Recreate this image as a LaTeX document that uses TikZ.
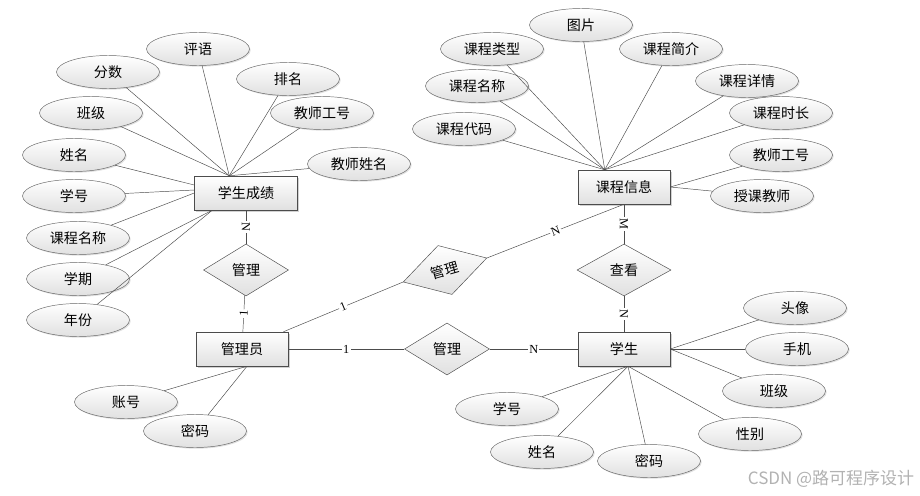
\documentclass[tikz,border=0pt]{standalone}
\usepackage{fontspec}
\setmainfont{Noto Sans CJK SC}
\newfontfamily\lblfont{Liberation Serif}
\usetikzlibrary{calc}
\usetikzlibrary{shapes.geometric}
\usetikzlibrary{shadows}
\tikzset{
    entity/.style = {draw=black!70, rectangle, 
        top color=white, bottom color=black!12,
        drop shadow={shadow xshift=1.5pt, shadow yshift=-1.5pt, opacity=0.35},
        minimum height=1.02cm, 
        minimum width=2.76cm},
    attr/.style = {draw=black!60, ellipse, inner sep=0pt,
        top color=white, bottom color=black!12,
        drop shadow={shadow xshift=1pt, shadow yshift=-1pt, opacity=0.25},
        minimum height=0.99cm, 
        minimum width=3.09cm},
    rel/.style = {draw=black!70, diamond, inner sep=0pt,
        top color=white, bottom color=black!12,
        minimum height=1.56cm, 
        minimum width=2.55cm},
    link/.style = {draw=black!70},
    card/.style = {fill=white, inner sep=1pt, sloped, font=\lblfont\fontsize{10.5}{11}\selectfont}
}

\begin{document}
\begin{tikzpicture}[x=0.03cm, y=-0.03cm, font=\fontsize{12}{14}\selectfont]
            \useasboundingbox (0,0) rectangle (920,495);
            \fill [white] (0,0) rectangle (920,495);

            \node [entity, minimum width=3.09cm] (cj) at (246,193) {学生成绩};
            \node [entity] (kc) at (624,187) {课程信息};
            \node [entity] (gly) at (242,349) {管理员};
            \node [entity] (xs) at (624,349) {学生};

            \node [rel] (glcj) at (246,270) {管理};
            \node [rel, minimum width=2.61cm, minimum height=1.53cm, rotate=16] (glkc) at (445,270) {管理};
            \node [rel, minimum width=2.82cm] (ck) at (624,270) {查看};
            \node [rel] (glxs) at (447,349) {管理};

            \node [attr] (cjpy) at (198,49) {评语};
            \node [attr] (cjfs) at (108,72) {分数};
            \node [attr] (cjpm) at (288,79) {排名};
            \node [attr] (cjbj) at (91,113) {班级};
            \node [attr] (cjgh) at (322,113) {教师工号};
            \node [attr] (cjxm) at (74,155) {姓名};
            \node [attr] (cjjs) at (359,164) {教师姓名};
            \node [attr] (cjxh) at (74,196) {学号};
            \node [attr] (cjkm) at (78,238) {课程名称};
            \node [attr] (cjxq) at (78,279) {学期};
            \node [attr] (cjnf) at (78,320) {年份};

            \node [attr] (kctp) at (581,25) {图片};
            \node [attr] (kclx) at (492,49) {课程类型};
            \node [attr] (kcjj) at (671,49) {课程简介};
            \node [attr] (kcxq) at (747,81) {课程详情};
            \node [attr] (kcmc) at (477,86) {课程名称};
            \node [attr] (kcsc) at (781,113) {课程时长};
            \node [attr] (kcdm) at (464,129) {课程代码};
            \node [attr] (kcgh) at (781,155) {教师工号};
            \node [attr] (kcjs) at (762,196) {授课教师};

            \node [attr] (xstx) at (795,308) {头像};
            \node [attr] (xssj) at (797,349) {手机};
            \node [attr] (xsbj) at (774,391) {班级};
            \node [attr] (xsxb) at (750,434) {性别};
            \node [attr] (xsmm) at (649,461) {密码};
            \node [attr] (xsxm) at (542,452) {姓名};
            \node [attr] (xsxh) at (507,409) {学号};

            \node [attr] (glyzh) at (126,402) {账号};
            \node [attr] (glymm) at (195,431) {密码};

            \node [text=black!30, font=\fontsize{14.5}{16}\selectfont] (wm) at (831,479) {CSDN @路可程序设计};

            \coordinate (cjtop) at ($(cj.north west)+(35,0)$);
            \coordinate (cjbot) at ($(cj.south west)+(18,0)$);
            \coordinate (kctop) at ($(kc.north west)+(27,0)$);
            \coordinate (xsbot) at ($(xs.south)+(4,0)$);
            \coordinate (glybot) at ($(gly.south)+(5,0)$);

            \foreach \a in {cjpy,cjfs,cjpm,cjbj,cjgh,cjjs}
                \draw [link] (\a) -- (cjtop);
            \draw [link] (cjxm) -- ($(cj.west)+(0,-8)$);
            \draw [link] (cjxh) -- ($(cj.west)+(0,-3)$);
            \draw [link] (cjkm) -- (cj.west);
            \draw [link] (cjxq) -- (cjbot);
            \draw [link] (cjnf) -- (cjbot);

            \foreach \a in {kctp,kclx,kcjj,kcxq,kcmc,kcsc,kcdm}
                \draw [link] (\a) -- (kctop);
            \draw [link] (kcgh) -- (kc.east);
            \draw [link] (kcjs) -- (kc.east);

            \foreach \a in {xstx,xssj,xsbj}
                \draw [link] (\a) -- (xs.east);
            \foreach \a in {xsxb,xsmm,xsxm,xsxh}
                \draw [link] (\a) -- (xsbot);

            \draw [link] (glyzh) -- (glybot);
            \draw [link] (glymm) -- (glybot);

            \draw [link] (cj) -- node [card] {N} (glcj);
            \draw [link] (glcj) -- node [card] {1} (gly);
            \draw [link] (gly) -- node [card] {1} (glkc.west);
            \draw [link] (glkc.east) -- node [card] {N} (kc.south);
            \draw [link] (kc) -- node [card] {M} (ck);
            \draw [link] (ck) -- node [card] {N} (xs);
            \draw [link] (gly) -- node [card] {1} (glxs);
            \draw [link] (glxs) -- node [card] {N} (xs);
        \end{tikzpicture}
\end{document}
